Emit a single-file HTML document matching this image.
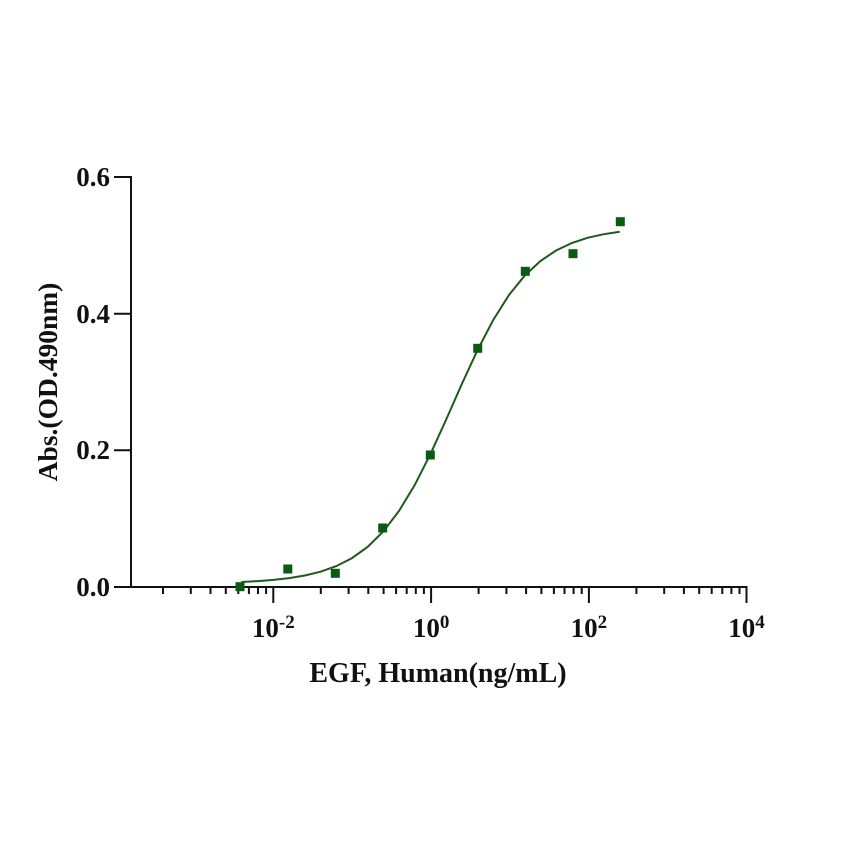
<!DOCTYPE html>
<html>
<head>
<meta charset="utf-8">
<style>
html,body{margin:0;padding:0;background:#fff;}
svg{display:block;}
text{font-family:"Liberation Serif","Times New Roman",serif;font-weight:bold;fill:#111;}
</style>
</head>
<body>
<svg width="842" height="842" viewBox="0 0 842 842" xmlns="http://www.w3.org/2000/svg">
<rect width="842" height="842" fill="#fff"/>
<g stroke="#111" stroke-width="2" fill="none">
  <!-- y axis -->
  <line x1="131" y1="176" x2="131" y2="588"/>
  <line x1="114" y1="177" x2="131" y2="177"/>
  <line x1="114" y1="313.7" x2="131" y2="313.7"/>
  <line x1="114" y1="450.3" x2="131" y2="450.3"/>
  <line x1="114" y1="587" x2="131" y2="587"/>
  <!-- x axis -->
  <line x1="115" y1="587" x2="747.5" y2="587"/>
  <!-- major ticks -->
  <line x1="273.3" y1="587" x2="273.3" y2="603"/>
  <line x1="431.1" y1="587" x2="431.1" y2="603"/>
  <line x1="588.9" y1="587" x2="588.9" y2="603"/>
  <line x1="746.5" y1="587" x2="746.5" y2="603"/>
  <!-- minor ticks -->
  <path d="M163 587V594M190.8 587V594M210.5 587V594M225.8 587V594M238.3 587V594M248.9 587V594M258 587V594M266.1 587V594
           M320.8 587V594M348.6 587V594M368.3 587V594M383.6 587V594M396.1 587V594M406.7 587V594M415.8 587V594M423.9 587V594
           M478.6 587V594M506.4 587V594M526.1 587V594M541.4 587V594M553.9 587V594M564.5 587V594M573.6 587V594M581.7 587V594
           M636.4 587V594M664.2 587V594M683.9 587V594M699.2 587V594M711.7 587V594M722.3 587V594M731.4 587V594M739.5 587V594"/>
</g>

<!-- y tick labels -->
<g font-size="27" text-anchor="end">
  <text x="110" y="186">0.6</text>
  <text x="110" y="323">0.4</text>
  <text x="110" y="459">0.2</text>
  <text x="110" y="596">0.0</text>
</g>

<!-- x tick labels -->
<g font-size="27" text-anchor="middle">
  <text x="273.3" y="637">10<tspan dy="-9" font-size="19">-2</tspan></text>
  <text x="431.1" y="637">10<tspan dy="-9" font-size="19">0</tspan></text>
  <text x="588.9" y="637">10<tspan dy="-9" font-size="19">2</tspan></text>
  <text x="746.5" y="637">10<tspan dy="-9" font-size="19">4</tspan></text>
</g>

<!-- axis titles -->
<text x="438" y="682" font-size="28" text-anchor="middle">EGF, Human(ng/mL)</text>
<text transform="translate(57,382) rotate(-90)" font-size="27.5" text-anchor="middle">Abs.(OD.490nm)</text>

<!-- fitted curve -->
<polyline fill="none" stroke="#1e5a1e" stroke-width="2"
  points="241.3,582.0 257.8,581.1 273.5,579.9 289.2,578.1 304.9,575.5 320.6,571.7 336.3,566.1 352.0,558.1 367.7,546.8 383.4,531.3 399.1,510.8 414.8,484.9 430.5,453.9 446.2,419.5 461.9,383.9 477.6,349.9 493.3,319.9 509.0,295.0 524.7,275.6 540.4,261.0 556.1,250.5 571.8,243.0 587.5,237.8 603.2,234.3 619.7,231.7"/>

<!-- data points -->
<g fill="#0a5a14">
  <rect x="235.5" y="582.2" width="9" height="9"/>
  <rect x="283.3" y="564.5" width="9" height="9"/>
  <rect x="330.8" y="568.8" width="9" height="9"/>
  <rect x="378.2" y="523.5" width="9" height="9"/>
  <rect x="425.8" y="450.5" width="9" height="9"/>
  <rect x="473.2" y="343.8" width="9" height="9"/>
  <rect x="520.8" y="266.8" width="9" height="9"/>
  <rect x="568.5" y="249.2" width="9" height="9"/>
  <rect x="615.8" y="217.2" width="9" height="9"/>
</g>
</svg>
</body>
</html>
